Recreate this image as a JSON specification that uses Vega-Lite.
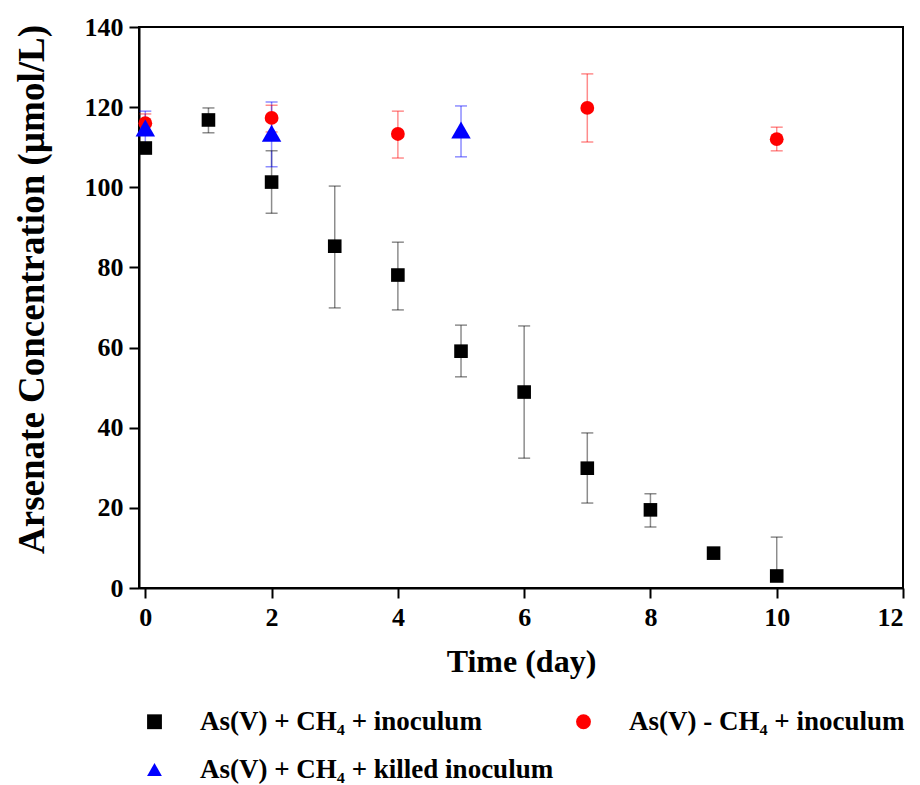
{
  "$schema": "https://vega.github.io/schema/vega-lite/v6.json",
  "width": 764,
  "height": 561,
  "autosize": {"type": "none"},
  "padding": {"left": 139, "top": 27, "right": 17, "bottom": 197},
  "background": "white",
  "config": {
    "view": {"stroke": "black", "strokeWidth": 2},
    "font": "Liberation Serif",
    "axis": {
      "grid": false,
      "domainColor": "black",
      "domainWidth": 2,
      "tickColor": "black",
      "tickWidth": 2,
      "tickSize": 10,
      "labelPadding": 6,
      "labelFont": "Liberation Serif",
      "labelFontWeight": "bold",
      "labelFontSize": 26,
      "labelColor": "black",
      "titleFont": "Liberation Serif",
      "titleFontWeight": "bold",
      "titleColor": "black"
    },
    "legend": {
      "orient": "none",
      "legendX": 2,
      "legendY": 681,
      "columns": 2,
      "direction": "horizontal",
      "symbolSize": 220,
      "symbolStrokeWidth": 0,
      "labelFont": "Liberation Serif",
      "labelFontWeight": "bold",
      "labelFontSize": 27,
      "labelColor": "black",
      "labelOffset": 32,
      "rowPadding": 20,
      "columnPadding": 16,
      "labelLimit": 500
    }
  },
  "data": {
    "values": [
      {"series": "As(V) + CH₄ + inoculum", "day": 0, "value": 109.8, "lo": null, "hi": null},
      {"series": "As(V) + CH₄ + inoculum", "day": 1, "value": 116.8, "lo": 113.6, "hi": 119.8},
      {"series": "As(V) + CH₄ + inoculum", "day": 2, "value": 101.3, "lo": 93.5, "hi": 109.1},
      {"series": "As(V) + CH₄ + inoculum", "day": 3, "value": 85.3, "lo": 69.9, "hi": 100.3},
      {"series": "As(V) + CH₄ + inoculum", "day": 4, "value": 78.1, "lo": 69.4, "hi": 86.3},
      {"series": "As(V) + CH₄ + inoculum", "day": 5, "value": 59.1, "lo": 52.7, "hi": 65.6},
      {"series": "As(V) + CH₄ + inoculum", "day": 6, "value": 48.9, "lo": 32.4, "hi": 65.4},
      {"series": "As(V) + CH₄ + inoculum", "day": 7, "value": 29.9, "lo": 21.2, "hi": 38.7},
      {"series": "As(V) + CH₄ + inoculum", "day": 8, "value": 19.5, "lo": 15.2, "hi": 23.5},
      {"series": "As(V) + CH₄ + inoculum", "day": 9, "value": 8.7, "lo": null, "hi": null},
      {"series": "As(V) + CH₄ + inoculum", "day": 10, "value": 3.0, "lo": 3.0, "hi": 12.7},
      {"series": "As(V) - CH₄ + inoculum", "day": 0, "value": 116.0, "lo": 114.0, "hi": 118.3},
      {"series": "As(V) - CH₄ + inoculum", "day": 2, "value": 117.3, "lo": 113.8, "hi": 120.5},
      {"series": "As(V) - CH₄ + inoculum", "day": 4, "value": 113.3, "lo": 107.3, "hi": 119.0},
      {"series": "As(V) - CH₄ + inoculum", "day": 7, "value": 119.8, "lo": 111.3, "hi": 128.3},
      {"series": "As(V) - CH₄ + inoculum", "day": 10, "value": 112.0, "lo": 109.1, "hi": 115.0},
      {"series": "As(V) + CH₄ + killed inoculum", "day": 0, "value": 114.8, "lo": 109.8, "hi": 119.0},
      {"series": "As(V) + CH₄ + killed inoculum", "day": 2, "value": 113.5, "lo": 105.1, "hi": 121.3},
      {"series": "As(V) + CH₄ + killed inoculum", "day": 5, "value": 114.3, "lo": 107.6, "hi": 120.3}
    ]
  },
  "encoding": {
    "x": {
      "field": "day",
      "type": "quantitative",
      "scale": {"domain": [-0.1, 12], "nice": false, "zero": false},
      "axis": {"values": [0, 2, 4, 6, 8, 10, 12], "title": "Time (day)", "titleFontSize": 32, "titlePadding": 16}
    }
  },
  "layer": [
    {
      "mark": {"type": "rule", "strokeWidth": 1.5, "opacity": 0.45},
      "encoding": {
        "y": {"field": "lo", "type": "quantitative"},
        "y2": {"field": "hi"},
        "stroke": {"field": "series", "type": "nominal", "legend": null,
          "scale": {"range": ["black", "#0000ff", "#ff0000"]}}
      }
    },
    {
      "transform": [{"fold": ["lo", "hi"], "as": ["bound", "bv"]}],
      "mark": {"type": "tick", "orient": "horizontal", "size": 12, "thickness": 1.5, "opacity": 0.45},
      "encoding": {
        "y": {"field": "bv", "type": "quantitative"},
        "fill": {"field": "series", "type": "nominal", "legend": null,
          "scale": {"range": ["black", "#0000ff", "#ff0000"]}}
      }
    },
    {
      "mark": {"type": "point", "filled": true, "opacity": 1},
      "encoding": {
        "y": {
          "field": "value",
          "type": "quantitative",
          "scale": {"domain": [0, 140], "nice": false},
          "axis": {"values": [0, 20, 40, 60, 80, 100, 120, 140], "title": "Arsenate Concentration (µmol/L)", "titleFontSize": 37, "titlePadding": 33, "titleY": 262}
        },
        "size": {"field": "series", "type": "nominal", "legend": null,
          "scale": {"type": "ordinal", "range": [185, 380, 190]}},
        "color": {"field": "series", "type": "nominal", "title": null,
          "scale": {"domain": ["As(V) + CH₄ + inoculum", "As(V) - CH₄ + inoculum", "As(V) + CH₄ + killed inoculum"], "range": ["black", "#ff0000", "#0000ff"]}},
        "shape": {"field": "series", "type": "nominal", "title": null,
          "scale": {"domain": ["As(V) + CH₄ + inoculum", "As(V) - CH₄ + inoculum", "As(V) + CH₄ + killed inoculum"], "range": ["square", "circle", "triangle-up"]}}
      }
    }
  ]
}
